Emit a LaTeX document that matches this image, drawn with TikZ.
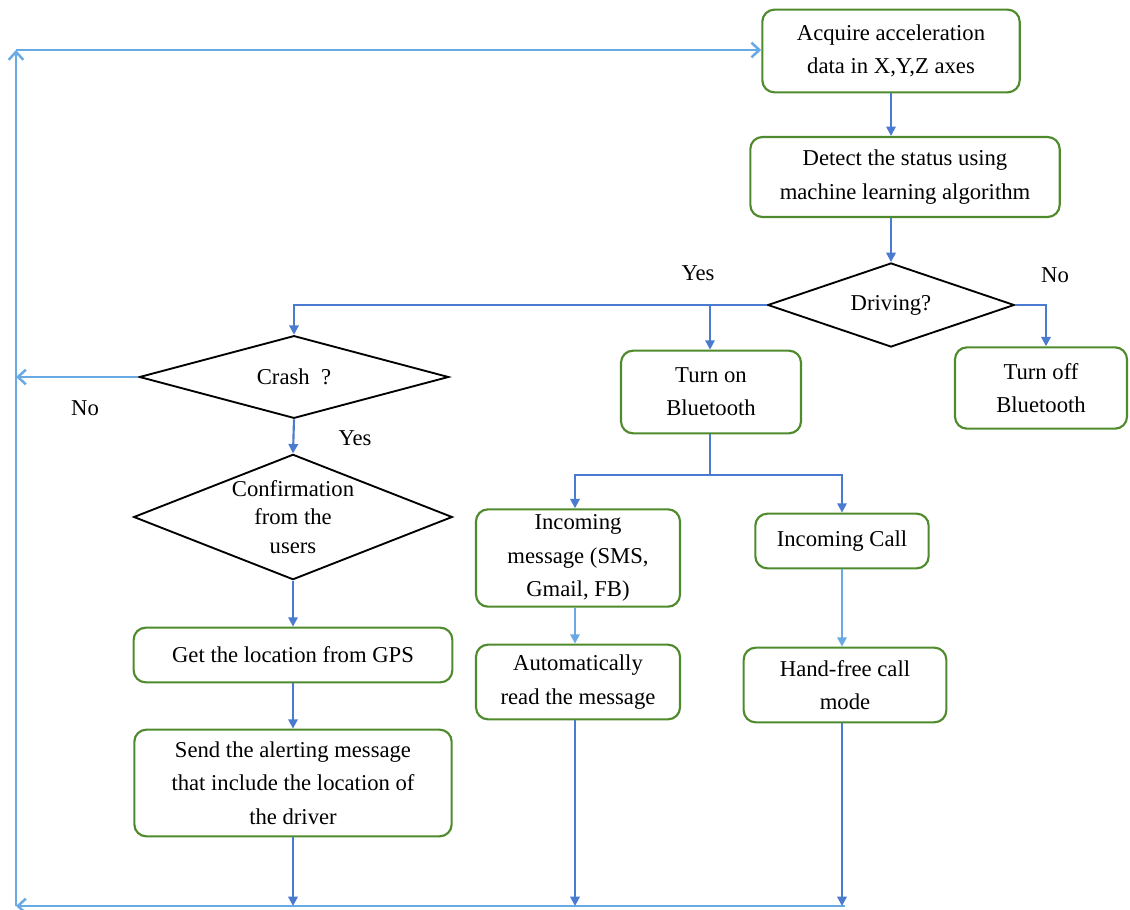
\documentclass[tikz,border=0pt]{standalone}
\usepackage{fontspec}
\IfFontExistsTF{LiberationSerif-Regular.ttf}
  {\setmainfont{LiberationSerif}[Extension=.ttf,UprightFont=*-Regular,BoldFont=*-Bold]}
  {\setmainfont{Liberation Serif}}
\usetikzlibrary{shapes.geometric,arrows.meta}
\definecolor{mainblue}{HTML}{4A7BD0}
\definecolor{loopblue}{HTML}{6AAAE4}
\definecolor{boxgreen}{HTML}{4F8A2C}
\begin{document}
\begin{tikzpicture}[x=0.75pt,y=-0.75pt,
  every node/.style={font=\fontsize{17}{25}\selectfont},
  proc/.style={draw=boxgreen, line width=1.6pt, rounded corners=9pt, align=center, inner sep=2pt},
  dec/.style={diamond, draw=black, line width=1.4pt, inner sep=0pt},
  arr/.style={draw=mainblue, line width=1.6pt, -{Triangle[length=7pt,width=7pt]}},
  larr/.style={draw=loopblue, line width=1.6pt, -{Triangle[length=7pt,width=7pt]}},
  loopln/.style={draw=loopblue, line width=1.9pt, -{Straight Barb[length=6pt,width=11pt]}},
  plainln/.style={draw=mainblue, line width=1.6pt}]
\useasboundingbox (0,0) rectangle (1130,909);

% process boxes
\node[proc, minimum width=193pt, minimum height=62pt] (acq) at (891,51) {Acquire acceleration\\data in X,Y,Z axes};
\node[proc, minimum width=232pt, minimum height=60pt] (det) at (905,177) {Detect the status using\\machine learning algorithm};
\node[proc, minimum width=135pt, minimum height=62pt] (on) at (711,392) {Turn on\\Bluetooth};
\node[proc, minimum width=129pt, minimum height=61pt] (off) at (1041,388) {Turn off\\Bluetooth};
\node[proc, minimum width=239pt, minimum height=41pt] (gps) at (293,655) {Get the location from GPS};
\node[proc, minimum width=238pt, minimum height=80pt] (send) at (293,783) {Send the alerting message\\that include the location of\\the driver};
\node[proc, minimum width=153pt, minimum height=73pt] (msg) at (578,558) {Incoming\\message (SMS,\\Gmail, FB)};
\node[proc, minimum width=153pt, minimum height=56pt] (auto) at (578,682) {Automatically\\read the message};
\node[proc, minimum width=130pt, minimum height=41pt] (call) at (842,541) {Incoming Call};
\node[proc, minimum width=152pt, minimum height=56pt] (hand) at (845,685) {Hand-free call\\mode};

% decisions
\node[dec, minimum width=185pt, minimum height=63pt, label={center:Driving?}] (drv) at (891,305) {};
\node[dec, minimum width=232pt, minimum height=62pt, label={center:Crash\ \ ?}] (crash) at (294,377) {};
\node[dec, minimum width=239pt, minimum height=94pt, label={[align=center,font=\fontsize{17}{21.5}\selectfont]center:Confirmation\\from the\\users}] (conf) at (293,517) {};

% labels
\node (yes1) at (698,273) {Yes};
\node (no1) at (1055,275) {No};
\node (no2) at (85,408) {No};
\node (yes2) at (355,438) {Yes};

% helper coordinates
\coordinate (bl) at (16,906);
\coordinate (tl) at (16,50);
\coordinate (j1) at (710,305);
\coordinate (j2) at (710,475);

% loop lines
\draw[loopln] (hand.south |- bl) -- (bl);
\draw[loopln] (bl) -- (tl);
\draw[loopln] (tl) -- (acq.west |- tl);
\draw[loopln] (crash.west) -- (crash.west -| bl);

% main flow
\draw[arr] (acq.south) -- (acq.south |- det.north);
\draw[arr] (acq.south |- det.south) -- (drv.north);
\draw[arr] (drv.west) -| (crash.north);
\draw[arr] (j1) -- (j1 |- on.north);
\draw[arr] (drv.east) -| ([xshift=3.75pt]off.north);
\draw[arr] (crash.south) -- (conf.north);
\draw[arr] (conf.south) -- (gps.north);
\draw[arr] (gps.south) -- (send.north);
\draw[arr] (send.south) -- (send.south |- bl);
\draw[plainln] (j1 |- on.south) -- (j2);
\draw[arr] (j2) -| ([xshift=-2.25pt]msg.north);
\draw[arr] (j2) -| (call.north);
\draw[larr] ([xshift=-2.25pt]msg.south) -- ([xshift=-2.25pt]auto.north);
\draw[larr] (call.south) -- (call.south |- hand.north);
\draw[arr] ([xshift=-2.25pt]auto.south) -- ([xshift=-2.25pt]auto.south |- bl);
\draw[arr] (call.south |- hand.south) -- (call.south |- bl);
\end{tikzpicture}
\end{document}
